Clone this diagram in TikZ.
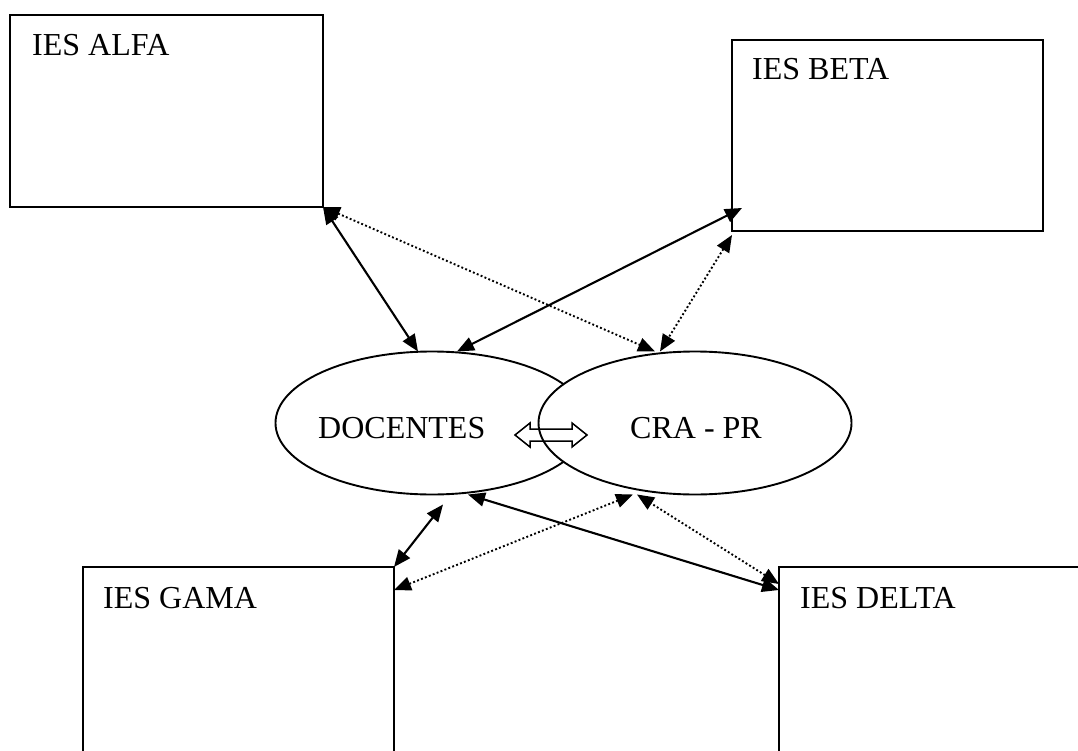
\documentclass[tikz,border=0pt]{standalone}
\usepackage{fontspec}
\setmainfont{Liberation Serif}
\usetikzlibrary{arrows.meta,shapes.geometric}
\begin{document}
\begin{tikzpicture}[x=1pt,y=-1pt,
  site/.style={draw, line width=1.9pt, rectangle, inner sep=0pt, outer sep=0pt, anchor=north west},
  hub/.style={ellipse, draw, fill=white, line width=1.9pt, minimum width=313pt, minimum height=143pt, inner sep=0pt, outer sep=0pt},
  caption/.style={anchor=base west, inner sep=0pt, font=\fontsize{32}{37}\selectfont},
  tip/.tip={Triangle[length=17pt,width=14pt]},
  link/.style={line width=2.1pt, tip-tip},
  dotlink/.style={line width=1.9pt, dash pattern=on 1.9pt off 2.3pt, tip-tip}]
\useasboundingbox (0,0) rectangle (1078,751);
\clip (0,0) rectangle (1078,751);

% the four schools
\node[site, minimum width=313pt, minimum height=192pt] (alfa) at (10,15) {};
\node[site, minimum width=311pt, minimum height=191pt] (beta) at (732,40) {};
\node[site, minimum width=311pt, minimum height=200pt] (gama) at (83,567) {};
\node[site, minimum width=320pt, minimum height=200pt] (delta) at (779,567) {};
\node[caption] (alfaT) at (32,56) {IES ALFA};
\node[caption] (betaT) at (752,80) {IES BETA};
\node[caption] (gamaT) at (103,608) {IES GAMA};
\node[caption] (deltaT) at (800,608) {IES DELTA};

% the two overlapping hubs
\node[hub] (doc) at (432,423) {};
\node[hub] (cra) at (695,423) {};
\node[caption] (docT) at (318,438) {DOCENTES};
\node[caption] (craT) at (630,438) {CRA - PR};

% hollow two-way arrow between the hubs
\draw[line width=1.5pt, line join=miter]
  (515,435) -- (530,423) -- (530,429) -- (572,429) -- (572,423) -- (587,435)
  -- (572,447) -- (572,441) -- (530,441) -- (530,447) -- cycle;

% solid links with DOCENTES
\draw[link] (alfa.south east) -- ([xshift=-14pt]doc.north);
\draw[link] ([xshift=25pt]doc.north) -- ([xshift=10pt,yshift=23pt]beta.south west);
\draw[link] ([xshift=36pt]doc.south) -- ([yshift=-23pt]delta.north west);
\draw[link] (gama.north east) -- ([xshift=11pt,yshift=-10pt]doc.south);

% dotted links with CRA - PR
\draw[dotlink] (alfa.south east) -- ([xshift=-40pt]cra.north);
\draw[dotlink] ([yshift=-4pt]beta.south west) -- ([xshift=-35pt]cra.north);
\draw[dotlink] ([yshift=-23pt]gama.north east) -- ([xshift=-62pt]cra.south);
\draw[dotlink] ([yshift=-17pt]delta.north west) -- ([xshift=-58pt]cra.south);
\end{tikzpicture}
\end{document}
